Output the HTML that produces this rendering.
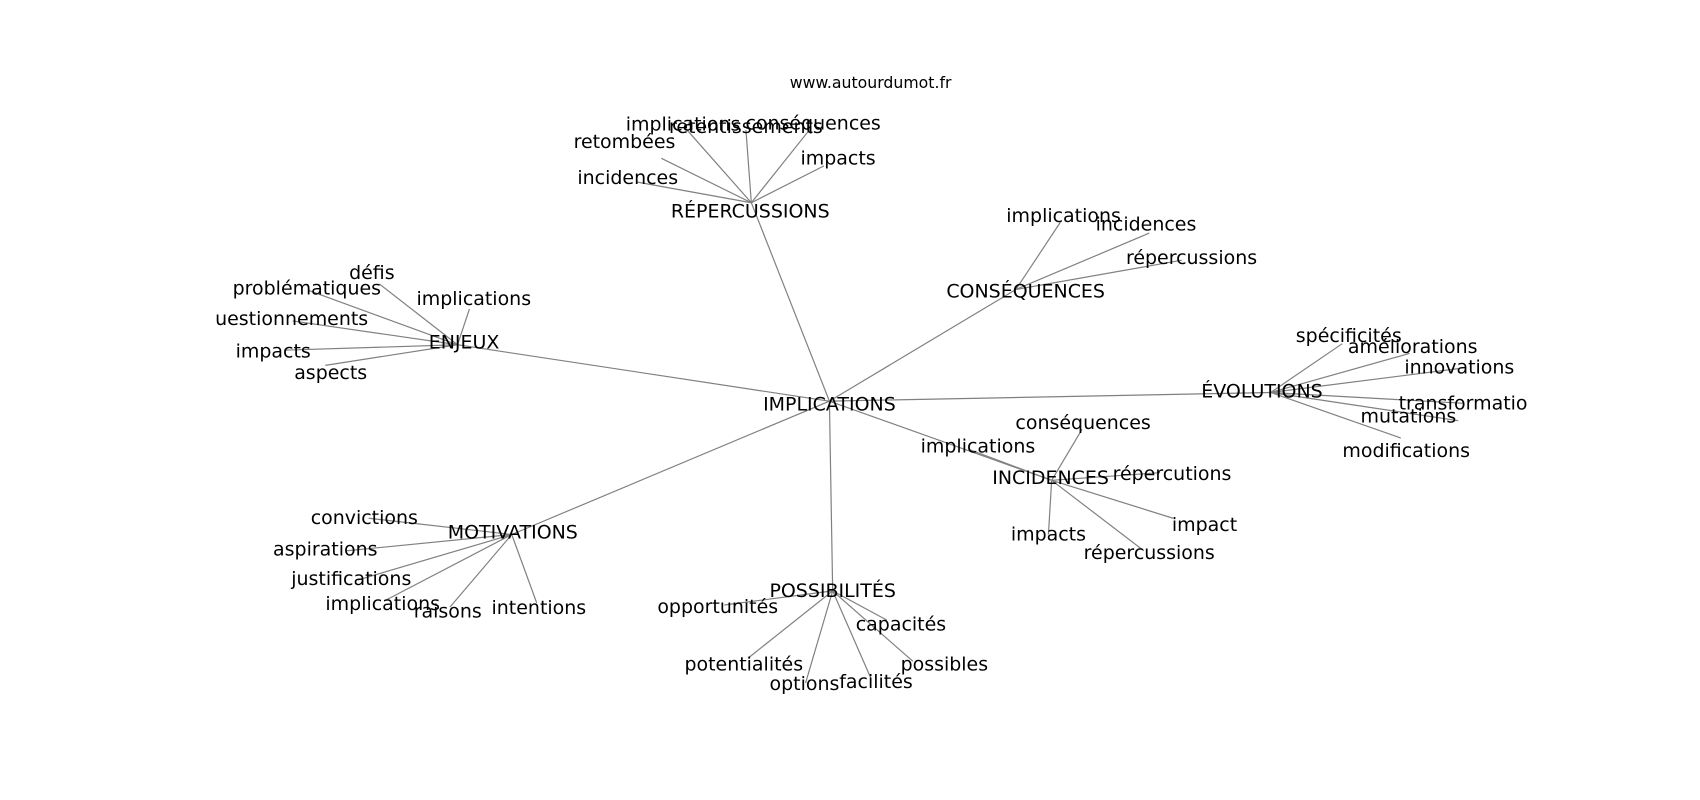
<!DOCTYPE html>
<html><head><meta charset="utf-8"><style>
html,body{margin:0;padding:0;background:#fff;}
svg{display:block;}
text{font-family:"DejaVu Sans","Liberation Sans",sans-serif;font-size:17.5px;fill:#000;text-anchor:middle;dominant-baseline:central;}
</style></head><body>
<svg width="1700" height="800" viewBox="0 0 1700 800" xmlns="http://www.w3.org/2000/svg">
<defs><clipPath id="c"><rect x="0" y="0" width="1410" height="800"/></clipPath></defs>
<g transform="scale(1.0842)">
<g stroke="#808080" stroke-width="1.1" fill="none">
<line x1="765" y1="370" x2="693" y2="187"/>
<line x1="765" y1="370" x2="422" y2="318"/>
<line x1="765" y1="370" x2="937" y2="267"/>
<line x1="765" y1="370" x2="1172" y2="362"/>
<line x1="765" y1="370" x2="970" y2="443"/>
<line x1="765" y1="370" x2="472" y2="493"/>
<line x1="765" y1="370" x2="768" y2="545"/>
<line x1="693" y1="187" x2="588" y2="168"/>
<line x1="693" y1="187" x2="610" y2="146"/>
<line x1="693" y1="187" x2="632" y2="118"/>
<line x1="693" y1="187" x2="688" y2="120"/>
<line x1="693" y1="187" x2="748" y2="118"/>
<line x1="693" y1="187" x2="760" y2="153"/>
<line x1="422" y1="318" x2="350" y2="262"/>
<line x1="422" y1="318" x2="285" y2="268"/>
<line x1="422" y1="318" x2="270" y2="296"/>
<line x1="422" y1="318" x2="262" y2="323"/>
<line x1="422" y1="318" x2="300" y2="337"/>
<line x1="422" y1="318" x2="433" y2="285"/>
<line x1="937" y1="267" x2="978" y2="205"/>
<line x1="937" y1="267" x2="1060" y2="215"/>
<line x1="937" y1="267" x2="1090" y2="240"/>
<line x1="1172" y1="362" x2="1238" y2="317"/>
<line x1="1172" y1="362" x2="1300" y2="326"/>
<line x1="1172" y1="362" x2="1345" y2="340"/>
<line x1="1172" y1="362" x2="1350" y2="372"/>
<line x1="1172" y1="362" x2="1345" y2="388"/>
<line x1="1172" y1="362" x2="1292" y2="404"/>
<line x1="970" y1="443" x2="998" y2="396"/>
<line x1="970" y1="443" x2="895" y2="415"/>
<line x1="970" y1="443" x2="1070" y2="436"/>
<line x1="970" y1="443" x2="1082" y2="478"/>
<line x1="970" y1="443" x2="1055" y2="508"/>
<line x1="970" y1="443" x2="967" y2="493"/>
<line x1="472" y1="493" x2="340" y2="478"/>
<line x1="472" y1="493" x2="320" y2="508"/>
<line x1="472" y1="493" x2="330" y2="535"/>
<line x1="472" y1="493" x2="355" y2="554"/>
<line x1="472" y1="493" x2="415" y2="560"/>
<line x1="472" y1="493" x2="495" y2="556"/>
<line x1="768" y1="545" x2="668" y2="558"/>
<line x1="768" y1="545" x2="690" y2="607"/>
<line x1="768" y1="545" x2="743" y2="630"/>
<line x1="768" y1="545" x2="803" y2="625"/>
<line x1="768" y1="545" x2="842" y2="610"/>
<line x1="768" y1="545" x2="818" y2="572"/>
</g>
<text x="803" y="76" style="font-size:14.5px">www.autourdumot.fr</text>
<text x="765" y="373">IMPLICATIONS</text>
<text x="692" y="195">RÉPERCUSSIONS</text>
<text x="630" y="115">implications</text>
<text x="688" y="117">retentissements</text>
<text x="750" y="114">conséquences</text>
<text x="576" y="131">retombées</text>
<text x="579" y="164">incidences</text>
<text x="773" y="146">impacts</text>
<text x="428" y="316">ENJEUX</text>
<text x="343" y="252">défis</text>
<text x="283" y="266">problématiques</text>
<text x="269" y="294">uestionnements</text>
<text x="437" y="276">implications</text>
<text x="252" y="324">impacts</text>
<text x="305" y="344">aspects</text>
<text x="946" y="269">CONSÉQUENCES</text>
<text x="981" y="199">implications</text>
<text x="1057" y="207">incidences</text>
<text x="1099" y="238">répercussions</text>
<text x="1164" y="361">ÉVOLUTIONS</text>
<text x="1244" y="310">spécificités</text>
<text x="1303" y="320">améliorations</text>
<text x="1346" y="339">innovations</text>
<text x="1355" y="372" clip-path="url(#c)">transformation</text>
<text x="1299" y="384">mutations</text>
<text x="1297" y="416">modifications</text>
<text x="969" y="441">INCIDENCES</text>
<text x="999" y="390">conséquences</text>
<text x="902" y="412">implications</text>
<text x="1081" y="437">répercutions</text>
<text x="1111" y="484">impact</text>
<text x="1060" y="510">répercussions</text>
<text x="967" y="493">impacts</text>
<text x="473" y="491">MOTIVATIONS</text>
<text x="336" y="478">convictions</text>
<text x="300" y="507">aspirations</text>
<text x="324" y="534">justifications</text>
<text x="353" y="557">implications</text>
<text x="413" y="564">raisons</text>
<text x="497" y="561">intentions</text>
<text x="768" y="545">POSSIBILITÉS</text>
<text x="662" y="560">opportunités</text>
<text x="831" y="576">capacités</text>
<text x="686" y="613">potentialités</text>
<text x="742" y="631">options</text>
<text x="808" y="629">facilités</text>
<text x="871" y="613">possibles</text>
</g>
</svg>
</body></html>
